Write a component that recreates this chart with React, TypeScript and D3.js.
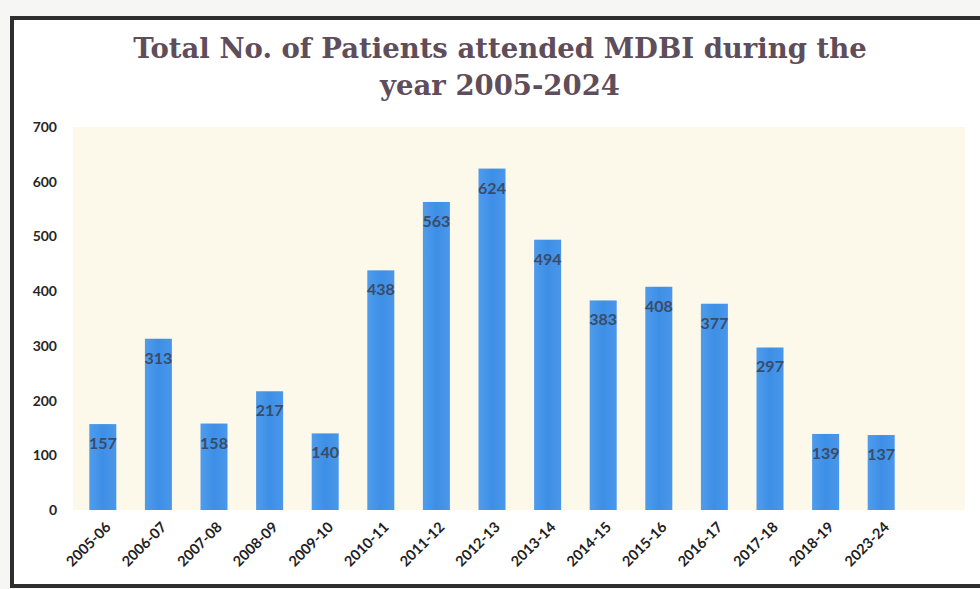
import * as d3 from "d3";

const years = [
  "2005-06", "2006-07", "2007-08", "2008-09", "2009-10", "2010-11", "2011-12", "2012-13",
  "2013-14", "2014-15", "2015-16", "2016-17", "2017-18", "2018-19", "2023-24",
];
const patients = [157, 313, 158, 217, 140, 438, 563, 624, 494, 383, 408, 377, 297, 139, 137];
const yTicks = [0, 100, 200, 300, 400, 500, 600, 700];
const titleLines = ["Total No. of Patients attended MDBI during the", "year 2005-2024"];

const width = 980;
const height = 589;
const plot = { left: 73, right: 965, top: 127, bottom: 510 };

export default function App() {
  const x = d3
    .scaleBand<string>()
    .domain(years)
    .range([75, 75 + years.length * 55.6])
    .paddingInner(0.5)
    .paddingOuter(0.25);
  const y = d3.scaleLinear().domain([0, 700]).range([plot.bottom, plot.top]);
  const bw = 27;

  return (
    <svg
      width={width}
      height={height}
      viewBox={`0 0 ${width} ${height}`}
      style={{ position: "absolute", left: 0, top: 0, background: "#f6f6f4" }}
    >
      <defs>
        <linearGradient id="barFill" x1="0" x2="1" y1="0" y2="0">
          <stop offset="0%" stopColor="#4f9cec" />
          <stop offset="50%" stopColor="#3d8fe6" />
          <stop offset="100%" stopColor="#4a97ea" />
        </linearGradient>
      </defs>

      <rect x={12} y={18} width={980} height={568} fill="#ffffff" stroke="#2e2e2e" strokeWidth={4} />

      {titleLines.map((line, i) => (
        <text
          key={line}
          x={500}
          y={58 + i * 37}
          textAnchor="middle"
          fontFamily="'DejaVu Serif', serif"
          fontWeight={700}
          fontSize={27.5}
          fill="#5e4d5a"
        >
          {line}
        </text>
      ))}

      <rect
        x={plot.left}
        y={plot.top}
        width={plot.right - plot.left}
        height={plot.bottom - plot.top}
        fill="#fcf8ea"
      />

      {yTicks.map((t) => (
        <text
          key={t}
          x={57}
          y={y(t) + 5}
          textAnchor="end"
          fontFamily="Lato, sans-serif"
          fontWeight={700}
          fontSize={14}
          fill="#262626"
        >
          {t}
        </text>
      ))}

      {years.map((yr, i) => {
        const cx = (x(yr) ?? 0) + x.bandwidth() / 2;
        const v = patients[i];
        return (
          <g key={yr}>
            <rect x={cx - bw / 2} y={y(v)} width={bw} height={plot.bottom - y(v)} fill="url(#barFill)" />
            <text
              x={cx}
              y={y(v) + 25}
              textAnchor="middle"
              fontFamily="Lato, sans-serif"
              fontWeight={700}
              fontSize={16}
              fill="#3a3f52"
              opacity={0.85}
            >
              {v}
            </text>
            <text
              transform={`translate(${cx + 9},${528}) rotate(-45)`}
              textAnchor="end"
              fontFamily="Lato, sans-serif"
              fontWeight={700}
              fontSize={14.5}
              fill="#1e1e1e"
            >
              {yr}
            </text>
          </g>
        );
      })}
    </svg>
  );
}
